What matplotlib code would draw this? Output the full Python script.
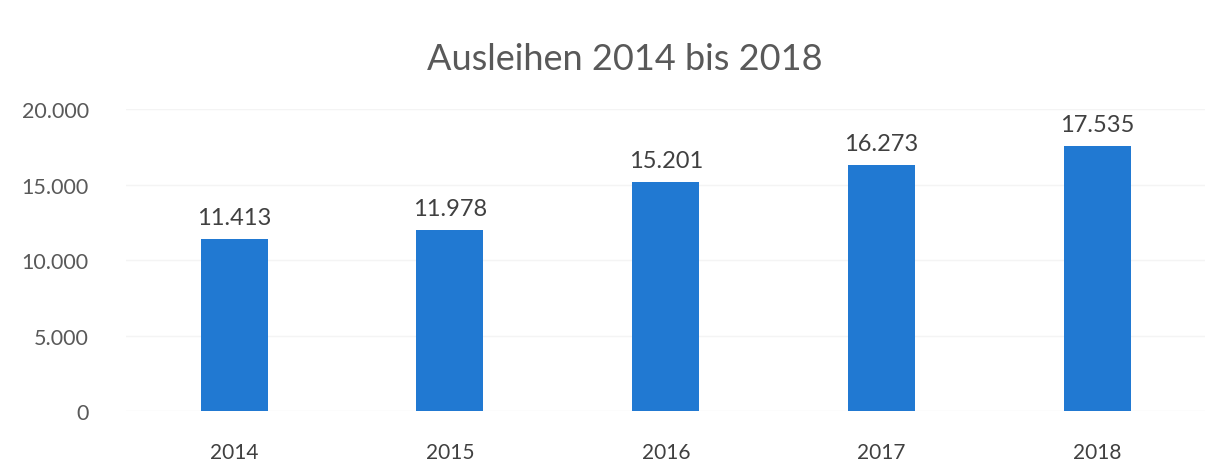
import matplotlib.pyplot as plt

years = ["2014", "2015", "2016", "2017", "2018"]
ausleihen = [11413, 11978, 15201, 16273, 17535]
yticks = [0, 5000, 10000, 15000, 20000]


def fmt_de(v):
    return f"{v:,}".replace(",", ".")


plt.rcParams['font.family'] = ['Lato', 'DejaVu Sans']

fig = plt.figure(figsize=(12.25, 4.77), dpi=100)
ax = fig.add_axes([0.103, 0.136, 0.881, 0.633])

x = range(len(years))
bars = ax.bar(x, ausleihen, width=0.31, color="#2179d2", zorder=2)

for b, v in zip(bars, ausleihen):
    ax.annotate(fmt_de(v), (b.get_x() + b.get_width() / 2, v),
                xytext=(0, 8), textcoords="offset points",
                ha="center", va="bottom", fontsize=17, color="#404040")

ax.set_xlim(-0.5, len(years) - 0.5)
ax.set_ylim(0, 20000)
ax.set_xticks(list(x))
ax.set_xticklabels(years, fontsize=15, color="#404040")
ax.set_yticks(yticks)
ax.set_yticklabels([fmt_de(t) for t in yticks], fontsize=15.5, color="#595959")
ax.tick_params(axis="x", length=0, pad=22)
ax.tick_params(axis="y", length=0, pad=27)
ax.grid(axis="y", color="#f4f4f4", linewidth=1, zorder=0)
for s in ax.spines.values():
    s.set_visible(False)

fig.suptitle("Ausleihen 2014 bis 2018", x=0.51, y=0.91, fontsize=26, color="#595959")

fig.savefig("out.png", dpi=100)
